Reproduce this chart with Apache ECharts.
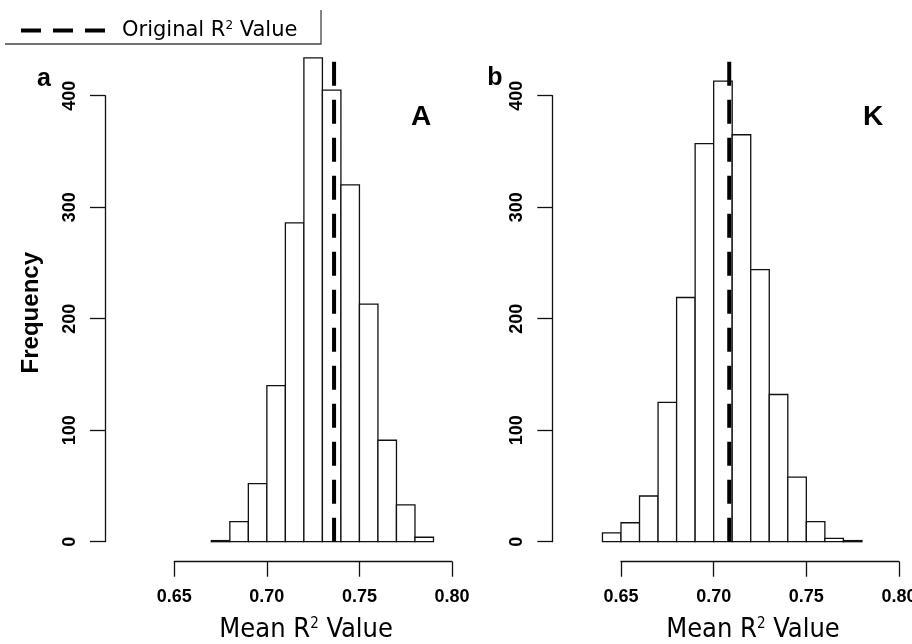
<!DOCTYPE html>
<html>
<head>
<meta charset="utf-8">
<title>Mean R2 permutation histograms</title>
<script src="https://cdn.jsdelivr.net/npm/echarts@6/dist/echarts.min.js"></script>
<style>
  html, body { margin: 0; padding: 0; background: #fff; }
  #chart { width: 912px; height: 644px; }
</style>
</head>
<body>
<div id="chart"></div>
<script>
// panel a (A): bin edges and counts
var leftEdges = [0.67, 0.68, 0.69, 0.70, 0.71, 0.72, 0.73, 0.74, 0.75, 0.76, 0.77, 0.78, 0.79]
var leftCounts = [1, 18, 52, 140, 286, 434, 405, 320, 213, 91, 33, 4]
var leftOriginal = 0.7363

// panel b (K)
var rightEdges = [0.64, 0.65, 0.66, 0.67, 0.68, 0.69, 0.70, 0.71, 0.72, 0.73, 0.74, 0.75, 0.76, 0.77, 0.78]
var rightCounts = [8, 17, 41, 125, 219, 357, 413, 365, 244, 132, 58, 18, 3, 1]
var rightOriginal = 0.7084

// how far up the dashed reference line is drawn
var lineTop = 436

var xTicks = [0.65, 0.70, 0.75, 0.80]
var yTicks = [0, 100, 200, 300, 400]

var ink = '#111'
var tickFont = 'Liberation Sans, Arial, sans-serif'
var narrowFont = 'Liberation Sans Narrow, DejaVu Sans Condensed, sans-serif'

function toBins(edges, counts) {
  var out = []
  for (var i = 0; i < counts.length; i++) {
    out.push([edges[i], edges[i + 1], counts[i]])
  }
  return out
}

function renderBar(params, api) {
  var p0 = api.coord([api.value(0), 0])
  var p1 = api.coord([api.value(1), api.value(2)])
  return {
    type: 'rect',
    shape: { x: p0[0], y: p1[1], width: p1[0] - p0[0], height: p0[1] - p1[1] },
    style: { fill: '#fff', stroke: ink, lineWidth: 1.3 }
  }
}

function xAxisOf(gridIndex) {
  return {
    type: 'value',
    gridIndex: gridIndex,
    min: xTicks[0],
    max: xTicks[xTicks.length - 1],
    interval: 0.05,
    position: 'bottom',
    offset: 20,
    axisLine: { show: true, onZero: false, lineStyle: { color: ink, width: 1.3 } },
    axisTick: { show: true, length: 15, lineStyle: { color: ink, width: 1.3 } },
    splitLine: { show: false },
    axisLabel: {
      margin: 26,
      color: '#000',
      fontFamily: tickFont,
      fontWeight: 'bold',
      fontSize: 18,
      showMinLabel: true,
      showMaxLabel: true,
      hideOverlap: false,
      formatter: function(v) { return v.toFixed(2) }
    },
    name: '{a|Mean R}{s|2}{a| Value}',
    nameLocation: 'middle',
    nameGap: 55,
    nameTextStyle: {
      padding: [0, 14, 0, 0],
      rich: {
        a: { fontFamily: narrowFont, fontSize: 27, color: '#000' },
        s: { fontFamily: narrowFont, fontSize: 15, color: '#000', verticalAlign: 'top' }
      }
    }
  }
}

function yAxisOf(gridIndex, offset, name) {
  return {
    type: 'value',
    gridIndex: gridIndex,
    min: yTicks[0],
    max: yTicks[yTicks.length - 1],
    interval: 100,
    position: 'left',
    offset: offset,
    axisLine: { show: true, lineStyle: { color: ink, width: 1.3 } },
    axisTick: { show: true, length: 15, lineStyle: { color: ink, width: 1.3 } },
    splitLine: { show: false },
    axisLabel: {
      rotate: 90,
      margin: 26,
      color: '#000',
      fontFamily: tickFont,
      fontWeight: 'bold',
      fontSize: 18,
      showMinLabel: true,
      showMaxLabel: true,
      hideOverlap: false
    },
    name: name,
    nameLocation: 'middle',
    nameRotate: 90,
    nameGap: 62,
    nameTextStyle: {
      fontFamily: tickFont,
      fontWeight: 'bold',
      fontSize: 24,
      color: '#000',
      padding: [0, 0, 0, 12]
    }
  }
}

function refLine(x, xi) {
  return {
    name: 'Original R² Value',
    type: 'line',
    xAxisIndex: xi,
    yAxisIndex: xi,
    data: [[x, 0], [x, lineTop]],
    symbol: 'none',
    clip: false,
    silent: true,
    z: 5,
    itemStyle: { color: '#000' },
    lineStyle: { color: '#000', width: 4, type: [24, 14] }
  }
}

var myChart = echarts.init(document.getElementById('chart'))
var option = {
  animation: false,
  backgroundColor: '#fff',
  grid: [
    { left: 174.3, width: 277.7, top: 95.7, height: 446, outerBoundsMode: 'none', containLabel: false },
    { left: 621, width: 278, top: 95.7, height: 446, outerBoundsMode: 'none', containLabel: false }
  ],
  xAxis: [xAxisOf(0), xAxisOf(1)],
  yAxis: [yAxisOf(0, 69.3, 'Frequency'), yAxisOf(1, 68.7, '')],
  legend: {
    left: 19,
    top: 20,
    padding: 0,
    itemWidth: 96,
    itemHeight: 14,
    selectedMode: false,
    data: ['Original R² Value'],
    itemStyle: { opacity: 0 },
    lineStyle: { color: '#000', width: 4, type: [20, 12] },
    formatter: function() { return '{a|Original R}{s|2}{a| Value}' },
    textStyle: {
      rich: {
        a: { fontFamily: 'DejaVu Sans, sans-serif', fontSize: 21, color: '#000' },
        s: { fontFamily: 'DejaVu Sans, sans-serif', fontSize: 12, color: '#000', verticalAlign: 'top' }
      }
    }
  },
  graphic: [
    // legend box (only bottom and right edges show)
    { type: 'polyline', shape: { points: [[5, 44], [321, 44], [321, 10]] }, style: { stroke: '#444', lineWidth: 1.3, fill: null } },
    { type: 'text', x: 44, y: 79, style: { text: 'a', font: 'bold 25px Liberation Sans, Arial, sans-serif', fill: '#000', textAlign: 'center', textVerticalAlign: 'middle' } },
    { type: 'text', x: 495, y: 78, style: { text: 'b', font: 'bold 25px Liberation Sans, Arial, sans-serif', fill: '#000', textAlign: 'center', textVerticalAlign: 'middle' } },
    { type: 'text', x: 421, y: 117, style: { text: 'A', font: 'bold 28px Liberation Sans, Arial, sans-serif', fill: '#000', textAlign: 'center', textVerticalAlign: 'middle' } },
    { type: 'text', x: 873, y: 117, style: { text: 'K', font: 'bold 28px Liberation Sans, Arial, sans-serif', fill: '#000', textAlign: 'center', textVerticalAlign: 'middle' } }
  ],
  series: [
    {
      type: 'custom',
      xAxisIndex: 0,
      yAxisIndex: 0,
      renderItem: renderBar,
      encode: { x: [0, 1], y: 2 },
      data: toBins(leftEdges, leftCounts)
    },
    {
      type: 'custom',
      xAxisIndex: 1,
      yAxisIndex: 1,
      renderItem: renderBar,
      encode: { x: [0, 1], y: 2 },
      data: toBins(rightEdges, rightCounts)
    },
    refLine(leftOriginal, 0),
    refLine(rightOriginal, 1)
  ]
}
myChart.setOption(option)
</script>
</body>
</html>
